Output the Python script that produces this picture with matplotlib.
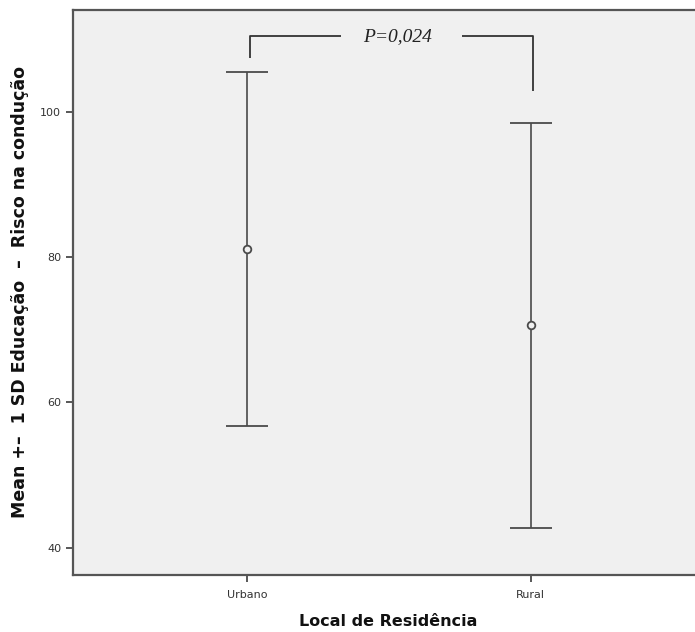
import numpy as np
import matplotlib
matplotlib.use("Agg")
import matplotlib.pyplot as plt

# data
groups = ["Urbano", "Rural"]
means = [81.1, 70.6]
sds = [24.4, 27.85]
p_text = "P=0,024"
bracket_top = 110.4
bracket_left_end = 107.4
bracket_right_end = 102.9
yticks = [40, 60, 80, 100]

INK = "#4a4a4a"

fig = plt.figure(figsize=(6.95, 6.32), dpi=100)
ax = fig.add_axes([0.105, 0.0902, 0.895, 0.894])
ax.set_facecolor("#f0f0f0")

x = np.arange(len(groups))
ax.errorbar(x, means, yerr=sds, fmt="o", color=INK, ecolor=INK,
            elinewidth=1.2, capsize=15, capthick=1.2,
            markersize=5.5, markerfacecolor="#f0f0f0",
            markeredgecolor=INK, markeredgewidth=1.3)

# significance bracket
xl, xr = x[0] + 0.01, x[1] + 0.007
gap_l, gap_r = 0.33, 0.758
ax.plot([xl, xl, gap_l], [bracket_left_end, bracket_top, bracket_top],
        color="#333333", lw=1.3, solid_capstyle="butt")
ax.plot([gap_r, xr, xr], [bracket_top, bracket_top, bracket_right_end],
        color="#333333", lw=1.3, solid_capstyle="butt")
ax.text((gap_l + gap_r) / 2 - 0.015, bracket_top, p_text,
        family="Liberation Serif", style="italic", fontsize=14,
        ha="center", va="center", color="#222222")

ax.set_xlim(-0.612, 1.578)
ax.set_ylim(36.24, 114.05)
ax.set_xticks(x)
ax.set_xticklabels(groups)
ax.set_yticks(yticks)
ax.tick_params(axis="both", colors=INK, labelcolor="#333333",
               labelsize=8, length=5, width=1.3, direction="out")
ax.tick_params(axis="x", pad=6)

for s in ["left", "bottom", "top"]:
    ax.spines[s].set_color("#555555")
    ax.spines[s].set_linewidth(1.6)
ax.spines["right"].set_visible(False)

ax.set_ylabel("Mean +–  1 SD Educação  –  Risco na condução",
              fontsize=12.5, fontweight="bold", color="#111111", labelpad=8)
fig.text(388 / 695, 1 - 622 / 632, "Local de Residência", fontsize=11.5,
         fontweight="bold", color="#111111", ha="center", va="center")

fig.savefig("out.png", dpi=100)
